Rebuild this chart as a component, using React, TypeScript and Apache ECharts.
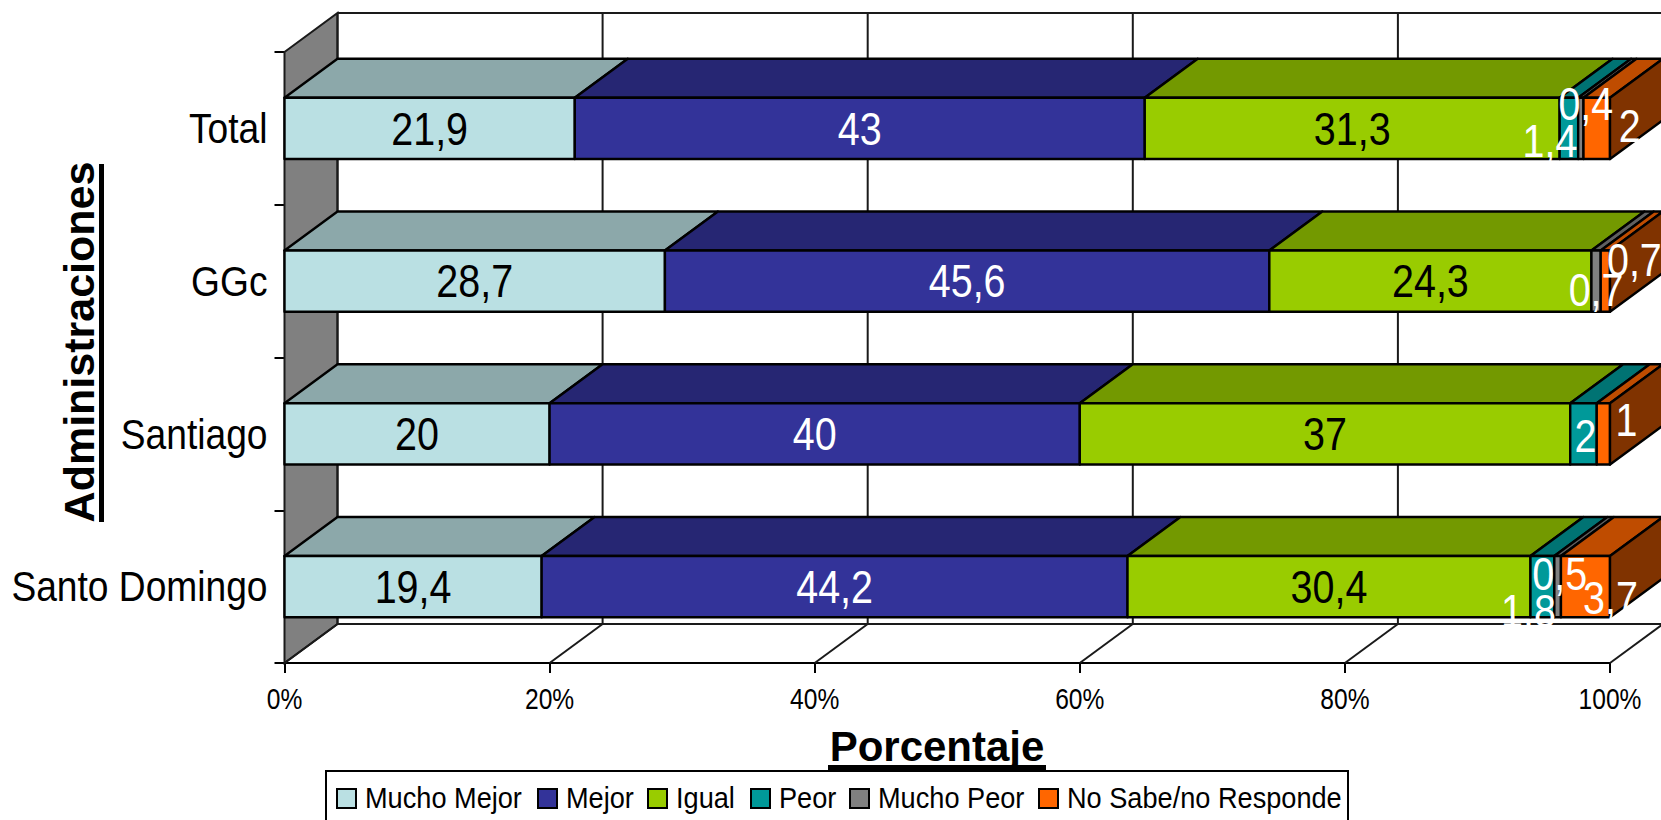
import React, { useEffect, useRef } from "react";
import * as echarts from "echarts";

const categories = ["Total", "GGc", "Santiago", "Santo Domingo"];
const muchoMejor = [21.9, 28.7, 20, 19.4];
const mejor = [43, 45.6, 40, 44.2];
const igual = [31.3, 24.3, 37, 30.4];
const peor = [1.4, 0, 2, 1.8];
const muchoPeor = [0.4, 0.7, 0, 0.5];
const noSabe = [2, 0.7, 1, 3.7];
const xTicks = [0, 20, 40, 60, 80, 100];

const seriesNames = ["Mucho Mejor", "Mejor", "Igual", "Peor", "Mucho Peor", "No Sabe/no Responde"];
const seriesValues = [muchoMejor, mejor, igual, peor, muchoPeor, noSabe];
const frontColors = ["#BAE0E3", "#333399", "#99CC00", "#009999", "#808080", "#FF6600"];
const topColors = ["#8CA8AA", "#262673", "#739900", "#007373", "#606060", "#BF4C00"];
const sideColor = "#803300";
const labelColors = ["#000", "#fff", "#000", "#fff", "#fff", "#fff"];
const legendSwatchX = [337, 538, 648, 751, 850, 1039];

// Pixel shifts for the labels of the thin segments at the end of each bar: "series:category"
const labelShift: Record<string, [number, number]> = {
  "3:0": [-19, 12],
  "4:0": [5, -25],
  "5:0": [33, -3],
  "4:1": [0, 9],
  "5:1": [29, -21],
  "3:2": [2, 2],
  "5:2": [23, -14],
  "3:3": [-14, 24],
  "4:3": [2, -13],
  "5:3": [25, 11],
};

const DX = 53;
const DY = -39;
const BAR_RATIO = 0.401;
const ARIAL = "'Liberation Sans', sans-serif";

const fmt = (v: number) => String(v).replace(".", ",");

function segments(seriesIndex: number) {
  return categories.map((_, c) => {
    let start = 0;
    for (let s = 0; s < seriesIndex; s++) start += seriesValues[s][c];
    return [c, start, start + seriesValues[seriesIndex][c]];
  });
}

function barSeries(seriesIndex: number) {
  return {
    type: "custom",
    name: seriesNames[seriesIndex],
    z: 5,
    itemStyle: { color: frontColors[seriesIndex] },
    data: segments(seriesIndex),
    encode: { x: [1, 2], y: 0 },
    renderItem: (_: any, api: any) => {
      const c = api.value(0);
      const from = api.coord([api.value(1), c]);
      const to = api.coord([api.value(2), c]);
      const half = (api.size([0, 1])[1] * BAR_RATIO) / 2;
      const x0 = from[0];
      const x1 = to[0];
      const top = from[1] - half;
      const bottom = from[1] + half;
      if (x1 - x0 < 0.01) return { type: "group", children: [] };
      const edge = { stroke: "#000", lineWidth: 2.4, lineJoin: "round" };
      const children: any[] = [
        {
          type: "polygon",
          shape: { points: [[x0, top], [x1, top], [x1 + DX, top + DY], [x0 + DX, top + DY]] },
          style: { fill: topColors[seriesIndex], ...edge },
        },
        {
          type: "rect",
          shape: { x: x0, y: top, width: x1 - x0, height: bottom - top },
          style: { fill: frontColors[seriesIndex], ...edge },
        },
      ];
      if (seriesIndex === seriesNames.length - 1) {
        children.push({
          type: "polygon",
          shape: { points: [[x1, top], [x1 + DX, top + DY], [x1 + DX, bottom + DY], [x1, bottom]] },
          style: { fill: sideColor, ...edge },
        });
      }
      return { type: "group", children };
    },
  };
}

function labelSeries(seriesIndex: number) {
  return {
    type: "custom",
    z: 10,
    silent: true,
    data: segments(seriesIndex),
    encode: { x: [1, 2], y: 0 },
    renderItem: (_: any, api: any) => {
      const c = api.value(0);
      const value = seriesValues[seriesIndex][c];
      if (!value) return { type: "group", children: [] };
      const mid = api.coord([(api.value(1) + api.value(2)) / 2, c]);
      const shift = labelShift[`${seriesIndex}:${c}`] || [0, 0];
      return {
        type: "text",
        x: mid[0] + shift[0],
        y: mid[1] + shift[1],
        scaleX: 0.84,
        style: {
          text: fmt(value),
          fill: labelColors[seriesIndex],
          font: `47px ${ARIAL}`,
          align: "center",
          verticalAlign: "middle",
        },
      };
    },
  };
}

// Side wall, back wall grid lines and floor of the 3D box
const frameSeries = {
  type: "custom",
  z: 1,
  silent: true,
  data: xTicks.map((t) => [t]),
  encode: { x: 0 },
  renderItem: (params: any, api: any) => {
    const t = api.value(0);
    const { y: gridTop, height } = params.coordSys;
    const gridBottom = gridTop + height;
    const x = api.coord([t, 0])[0];
    const line = { stroke: "#1a1a1a", lineWidth: 2 };
    const children: any[] = [
      { type: "line", shape: { x1: x + DX, y1: gridTop + DY, x2: x + DX, y2: gridBottom + DY }, style: line },
      { type: "line", shape: { x1: x, y1: gridBottom, x2: x + DX, y2: gridBottom + DY }, style: line },
    ];
    if (t === 0) {
      const xEnd = api.coord([100, 0])[0] + DX;
      children.unshift({
        type: "polygon",
        shape: { points: [[x, gridTop], [x + DX, gridTop + DY], [x + DX, gridBottom + DY], [x, gridBottom]] },
        style: { fill: "#808080", ...line },
      });
      children.push(
        { type: "line", shape: { x1: x + DX, y1: gridTop + DY, x2: xEnd, y2: gridTop + DY }, style: line },
        { type: "line", shape: { x1: x + DX, y1: gridBottom + DY, x2: xEnd, y2: gridBottom + DY }, style: line },
      );
    }
    return {
      type: "group",
      children: [
        ...children,
        {
          // tick label, condensed like the other chart texts
          type: "text",
          x,
          y: gridBottom + 36,
          scaleX: 0.82,
          style: { text: `${t}%`, fill: "#000", font: `30px ${ARIAL}`, align: "center", verticalAlign: "middle" },
        },
      ],
    };
  },
};

const categoryLabelSeries = {
  type: "custom",
  z: 3,
  silent: true,
  data: categories.map((_, i) => [0, i]),
  encode: { x: 0, y: 1 },
  renderItem: (_: any, api: any) => {
    const p = api.coord([0, api.value(1)]);
    return {
      type: "text",
      x: p[0] - 17,
      y: p[1],
      scaleX: 0.885,
      style: { text: categories[api.value(1)], fill: "#000", font: `42px ${ARIAL}`, align: "right", verticalAlign: "middle" },
    };
  },
};

const legendElements = (): any[] => {
  const items: any[] = [
    { type: "rect", shape: { x: 326, y: 771, width: 1022, height: 70 }, style: { fill: "#fff", stroke: "#000", lineWidth: 2 } },
  ];
  seriesNames.forEach((name, i) => {
    items.push(
      {
        type: "rect",
        shape: { x: legendSwatchX[i], y: 789, width: 19, height: 19 },
        style: { fill: frontColors[i], stroke: "#000", lineWidth: 2 },
      },
      {
        type: "text",
        x: legendSwatchX[i] + 28,
        y: 798,
        scaleX: 0.905,
        style: { text: name, fill: "#000", font: `30px ${ARIAL}`, align: "left", verticalAlign: "middle" },
      },
    );
  });
  return items;
};

export default function App() {
  const ref = useRef<HTMLDivElement>(null);
  useEffect(() => {
    document.body.style.margin = "0";
    document.body.style.overflow = "hidden";
    const chart = echarts.init(ref.current!, undefined, { renderer: "svg" });
    const black = { lineStyle: { color: "#000", width: 2 } };
    chart.setOption({
      animation: false,
      backgroundColor: "#fff",
      grid: { left: 284.5, right: 51, top: 52, bottom: 157, containLabel: false, outerBoundsMode: "none" },
      xAxis: {
        type: "value",
        min: 0,
        max: 100,
        interval: 20,
        axisLine: { show: true, ...black },
        axisTick: { show: true, length: 10, ...black },
        splitLine: { show: false },
        axisLabel: { show: false },
      },
      yAxis: {
        type: "category",
        inverse: true,
        data: categories,
        axisLine: { show: true, ...black },
        axisTick: { show: true, length: 10, ...black },
        axisLabel: { show: false },
      },
      graphic: [
        {
          type: "text",
          x: 937,
          y: 746,
          style: { text: "Porcentaje", fill: "#000", font: `bold 42px ${ARIAL}`, align: "center", verticalAlign: "middle" },
        },
        { type: "rect", shape: { x: 828, y: 765, width: 218, height: 5 }, style: { fill: "#000" } },
        {
          type: "text",
          x: 79,
          y: 342,
          rotation: Math.PI / 2,
          style: { text: "Administraciones", fill: "#000", font: `bold 43px ${ARIAL}`, align: "center", verticalAlign: "middle" },
        },
        { type: "rect", shape: { x: 99, y: 164, width: 5, height: 358 }, style: { fill: "#000" } },
        ...legendElements(),
      ],
      series: [
        frameSeries,
        categoryLabelSeries,
        ...seriesNames.map((_, i) => barSeries(i)),
        ...seriesNames.map((_, i) => labelSeries(i)),
      ],
    });
    return () => chart.dispose();
  }, []);
  return <div ref={ref} style={{ position: "absolute", left: 0, top: 0, width: 1661, height: 820 }} />;
}
